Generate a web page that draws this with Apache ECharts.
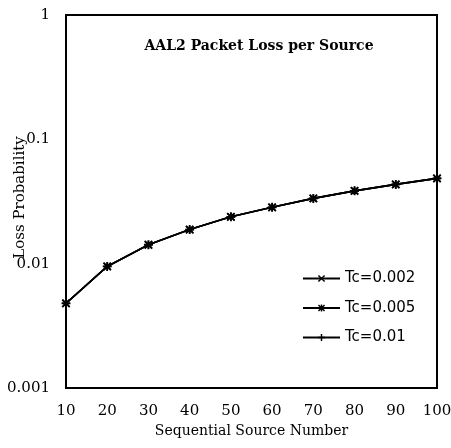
<!DOCTYPE html>
<html><head><meta charset="utf-8">
<script src="https://cdn.jsdelivr.net/npm/echarts@6/dist/echarts.min.js"></script>
<style>html,body{margin:0;padding:0;background:#fff}#c{width:451px;height:448px}</style>
</head><body><div id="c"></div>
<script>
const sources = [10, 20, 30, 40, 50, 60, 70, 80, 90, 100];
const tc002 = [0.0048, 0.0095, 0.0142, 0.0188, 0.0238, 0.0284, 0.0335, 0.0385, 0.0434, 0.0485];
const tc005 = [0.0048, 0.0095, 0.0142, 0.0188, 0.0238, 0.0284, 0.0335, 0.0385, 0.0434, 0.0485];
const tc01  = [0.0048, 0.0095, 0.0142, 0.0188, 0.0238, 0.0284, 0.0335, 0.0385, 0.0434, 0.0485];
const seriesNames = ['Tc=0.002', 'Tc=0.005', 'Tc=0.01'];

const plus = 'path://M4,0h2v4h4v2h-4v4h-2v-4h-4v-2h4z';
const star = 'path://M4,0h2v4h4v2h-4v4h-2v-4h-4v-2h4z M1.5,0.1L5,3.6L8.5,0.1L9.9,1.5L6.4,5L9.9,8.5L8.5,9.9L5,6.4L1.5,9.9L0.1,8.5L3.6,5L0.1,1.5z';
const cross = 'path://M1.5,0.1L5,3.6L8.5,0.1L9.9,1.5L6.4,5L9.9,8.5L8.5,9.9L5,6.4L1.5,9.9L0.1,8.5L3.6,5L0.1,1.5z';

function pts(v){ return sources.map((s,i)=>[s, v[i]]); }
function mk(name, data, sym, size){
  return {name, type:'line', data:pts(data), symbol:sym, symbolSize:size, showSymbol:true,
    lineStyle:{color:'#000', width:1.6}, itemStyle:{color:'#000'}, animation:false};
}
const chart = echarts.init(document.getElementById('c'));
chart.setOption({
  backgroundColor:'#fff',
  animation:false,
  title:{text:'AAL2 Packet Loss per Source', left:254, top:34, textAlign:'center',
    textStyle:{fontFamily:'DejaVu Serif', fontWeight:'bold', fontSize:14, color:'#000'}},
  legend:{orient:'vertical', left:302, top:271, padding:0, itemGap:14.5, itemWidth:37, itemHeight:9,
    textStyle:{fontFamily:'DejaVu Sans', fontSize:15, color:'#000'},
    data:seriesNames},
  grid:{left:66, right:14, top:15, bottom:60, containLabel:false, outerBoundsMode:'none',
    show:true, borderColor:'#000', borderWidth:2},
  xAxis:{type:'value', min:10, max:100, interval:10,
    name:'Sequential Source Number', nameLocation:'middle', nameGap:33,
    nameTextStyle:{fontFamily:'DejaVu Serif', fontSize:14, color:'#000'},
    axisLine:{lineStyle:{color:'#000', width:2}}, axisTick:{show:false}, splitLine:{show:false},
    axisLabel:{fontFamily:'DejaVu Serif', fontSize:15, color:'#000', margin:16}},
  yAxis:{type:'log', logBase:10, min:0.001, max:1,
    name:'Loss Probability', nameLocation:'middle', nameGap:38, nameMoveOverlap:false,
    nameTextStyle:{fontFamily:'DejaVu Serif', fontSize:15, color:'#000', padding:[0,0,0,8]},
    axisLine:{lineStyle:{color:'#000', width:2}}, axisTick:{show:false}, splitLine:{show:false},
    axisLabel:{fontFamily:'DejaVu Serif', fontSize:15, color:'#000', margin:16}},
  series:[mk(seriesNames[0], tc002, cross, 8), mk(seriesNames[1], tc005, star, 9), mk(seriesNames[2], tc01, plus, 8)]
});
</script></body></html>
